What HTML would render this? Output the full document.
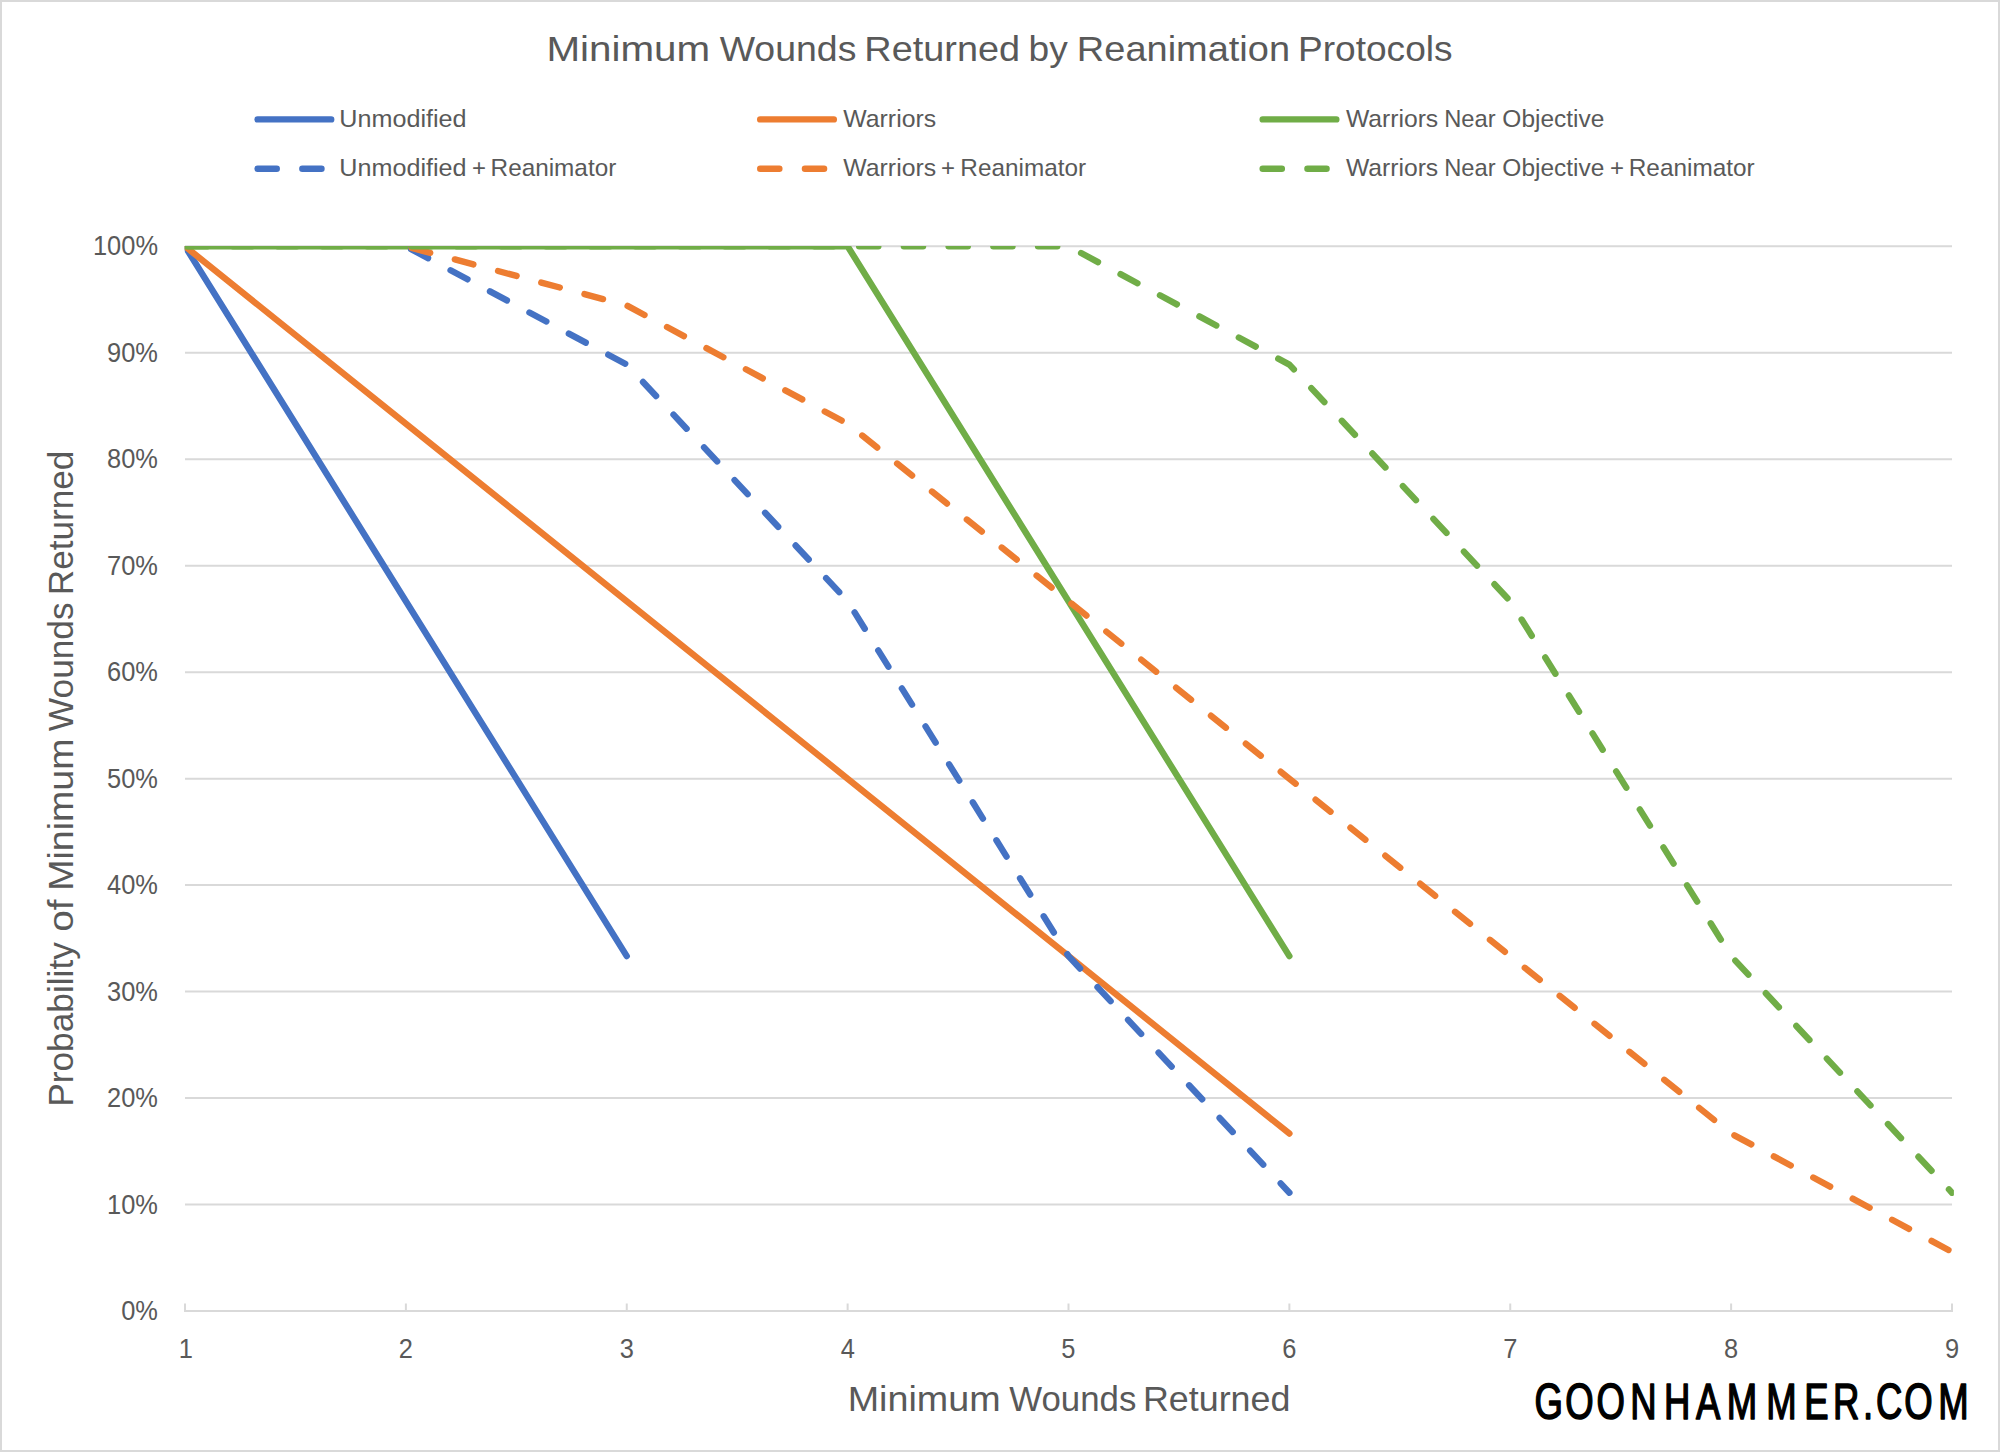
<!DOCTYPE html>
<html lang="en"><head><meta charset="utf-8"><title>Minimum Wounds Returned by Reanimation Protocols</title>
<style>html,body{margin:0;padding:0;background:#fff;width:2000px;height:1452px;overflow:hidden}svg{display:block}text{font-family:"Liberation Sans",sans-serif;fill:#595959}</style>
</head><body>
<svg width="2000" height="1452" viewBox="0 0 2000 1452">
<rect x="0" y="0" width="2000" height="1452" fill="#fff"/>
<rect x="1" y="1" width="1998" height="1450" fill="none" stroke="#D9D9D9" stroke-width="2"/>
<g stroke="#D9D9D9" stroke-width="2" fill="none">
<line x1="184.00" y1="1311.00" x2="1953.00" y2="1311.00"/>
<line x1="185.00" y1="1204.53" x2="1952.00" y2="1204.53"/>
<line x1="185.00" y1="1098.06" x2="1952.00" y2="1098.06"/>
<line x1="185.00" y1="991.59" x2="1952.00" y2="991.59"/>
<line x1="185.00" y1="885.12" x2="1952.00" y2="885.12"/>
<line x1="185.00" y1="778.65" x2="1952.00" y2="778.65"/>
<line x1="185.00" y1="672.18" x2="1952.00" y2="672.18"/>
<line x1="185.00" y1="565.71" x2="1952.00" y2="565.71"/>
<line x1="185.00" y1="459.24" x2="1952.00" y2="459.24"/>
<line x1="185.00" y1="352.77" x2="1952.00" y2="352.77"/>
<line x1="185.00" y1="246.30" x2="1952.00" y2="246.30"/>
<line x1="185.00" y1="1311.00" x2="185.00" y2="1303.50"/>
<line x1="405.88" y1="1311.00" x2="405.88" y2="1303.50"/>
<line x1="626.75" y1="1311.00" x2="626.75" y2="1303.50"/>
<line x1="847.62" y1="1311.00" x2="847.62" y2="1303.50"/>
<line x1="1068.50" y1="1311.00" x2="1068.50" y2="1303.50"/>
<line x1="1289.38" y1="1311.00" x2="1289.38" y2="1303.50"/>
<line x1="1510.25" y1="1311.00" x2="1510.25" y2="1303.50"/>
<line x1="1731.12" y1="1311.00" x2="1731.12" y2="1303.50"/>
<line x1="1952.00" y1="1311.00" x2="1952.00" y2="1303.50"/>
</g>
<defs><clipPath id="plot"><rect x="184.70" y="246.00" width="1769.20" height="1066.00"/></clipPath></defs>
<g clip-path="url(#plot)" fill="none" stroke-width="6.390" stroke-linecap="round" stroke-linejoin="round">
<polyline points="185.00,246.30 405.88,601.20 626.75,956.10" stroke="#4472C4"/>
<polyline points="185.00,246.30 405.88,423.75 626.75,601.20 847.62,778.65 1068.50,956.10 1289.38,1133.55" stroke="#ED7D31"/>
<polyline points="185.00,246.30 405.88,246.30 626.75,246.30 847.62,246.30 1068.50,601.20 1289.38,956.10" stroke="#70AD47"/>
<polyline points="405.88,246.30 626.75,364.60 847.62,601.20 1068.50,956.10 1289.38,1192.70" stroke="#4472C4" stroke-dasharray="19.170 25.560" stroke-dashoffset="38.760"/>
<polyline points="405.88,246.30 626.75,305.45 847.62,423.75 1068.50,601.20 1289.38,778.65 1510.25,956.10 1731.12,1133.55 1952.00,1251.85" stroke="#ED7D31" stroke-dasharray="19.170 25.560" stroke-dashoffset="38.760"/>
<polyline points="185.00,246.30 405.88,246.30 626.75,246.30 847.62,246.30 1068.50,246.30 1289.38,364.60 1510.25,601.20 1731.12,956.10 1952.00,1192.70" stroke="#70AD47" stroke-dasharray="19.170 25.560" stroke-dashoffset="-3.195"/>
</g>
<g fill="none" stroke-width="6.390" stroke-linecap="round">
<line x1="257.60" y1="119.4" x2="331.20" y2="119.4" stroke="#4472C4"/>
<line x1="257.60" y1="168.8" x2="331.20" y2="168.8" stroke="#4472C4" stroke-dasharray="19.170 25.560"/>
<line x1="760.20" y1="119.4" x2="833.80" y2="119.4" stroke="#ED7D31"/>
<line x1="760.20" y1="168.8" x2="833.80" y2="168.8" stroke="#ED7D31" stroke-dasharray="19.170 25.560"/>
<line x1="1262.69" y1="119.4" x2="1336.31" y2="119.4" stroke="#70AD47"/>
<line x1="1262.69" y1="168.8" x2="1336.31" y2="168.8" stroke="#70AD47" stroke-dasharray="19.170 25.560"/>
</g>
<text y="61.20" font-size="35.00"><tspan x="546.49" textLength="163.65" lengthAdjust="spacingAndGlyphs">Minimum</tspan> <tspan x="719.66" textLength="136.78" lengthAdjust="spacingAndGlyphs">Wounds</tspan> <tspan x="864.39" textLength="155.62" lengthAdjust="spacingAndGlyphs">Returned</tspan> <tspan x="1028.58" textLength="39.18" lengthAdjust="spacingAndGlyphs">by</tspan> <tspan x="1076.88" textLength="213.13" lengthAdjust="spacingAndGlyphs">Reanimation</tspan> <tspan x="1297.95" textLength="154.61" lengthAdjust="spacingAndGlyphs">Protocols</tspan></text>
<text y="126.80" font-size="24.20"><tspan x="339.32" textLength="127.25" lengthAdjust="spacingAndGlyphs">Unmodified</tspan></text>
<text y="126.80" font-size="24.20"><tspan x="843.32" textLength="92.79" lengthAdjust="spacingAndGlyphs">Warriors</tspan></text>
<text y="126.80" font-size="24.20"><tspan x="1345.92" textLength="92.28" lengthAdjust="spacingAndGlyphs">Warriors</tspan> <tspan x="1444.24" textLength="51.40" lengthAdjust="spacingAndGlyphs">Near</tspan> <tspan x="1502.39" textLength="101.96" lengthAdjust="spacingAndGlyphs">Objective</tspan></text>
<text y="176.20" font-size="24.20"><tspan x="339.32" textLength="127.25" lengthAdjust="spacingAndGlyphs">Unmodified</tspan> <tspan x="471.90" textLength="14.00" lengthAdjust="spacingAndGlyphs">+</tspan> <tspan x="490.59" textLength="125.70" lengthAdjust="spacingAndGlyphs">Reanimator</tspan></text>
<text y="176.20" font-size="24.20"><tspan x="843.32" textLength="92.79" lengthAdjust="spacingAndGlyphs">Warriors</tspan> <tspan x="941.00" textLength="14.00" lengthAdjust="spacingAndGlyphs">+</tspan> <tspan x="960.39" textLength="125.70" lengthAdjust="spacingAndGlyphs">Reanimator</tspan></text>
<text y="176.20" font-size="24.20"><tspan x="1345.92" textLength="92.28" lengthAdjust="spacingAndGlyphs">Warriors</tspan> <tspan x="1444.24" textLength="51.40" lengthAdjust="spacingAndGlyphs">Near</tspan> <tspan x="1502.39" textLength="101.96" lengthAdjust="spacingAndGlyphs">Objective</tspan> <tspan x="1610.00" textLength="14.00" lengthAdjust="spacingAndGlyphs">+</tspan> <tspan x="1628.79" textLength="125.91" lengthAdjust="spacingAndGlyphs">Reanimator</tspan></text>
<text y="1410.50" font-size="34.50"><tspan x="847.71" textLength="152.92" lengthAdjust="spacingAndGlyphs">Minimum</tspan> <tspan x="1009.28" textLength="127.10" lengthAdjust="spacingAndGlyphs">Wounds</tspan> <tspan x="1142.96" textLength="147.39" lengthAdjust="spacingAndGlyphs">Returned</tspan></text>
<text y="73.20" font-size="35.30" transform="rotate(-90)"><tspan x="-1106.79" textLength="164.68" lengthAdjust="spacingAndGlyphs">Probability</tspan> <tspan x="-931.88" textLength="32.30" lengthAdjust="spacingAndGlyphs">of</tspan> <tspan x="-890.87" textLength="152.27" lengthAdjust="spacingAndGlyphs">Minimum</tspan> <tspan x="-731.13" textLength="128.72" lengthAdjust="spacingAndGlyphs">Wounds</tspan> <tspan x="-595.28" textLength="144.69" lengthAdjust="spacingAndGlyphs">Returned</tspan></text>
<text transform="scale(0.7258,1)" x="2114.12 2156.75 2199.63 2246.03 2292.67 2336.85 2379.11 2433.53 2486.04 2525.55 2566.80 2584.82 2623.49 2670.64" y="1419.00" font-size="50.29" style="fill:#000" stroke="#000" stroke-width="1.40" stroke-linejoin="round" vector-effect="non-scaling-stroke">GOONHAMMER.COM</text>
<text x="121.22" y="1320.00" font-size="27.00" textLength="36.76" lengthAdjust="spacingAndGlyphs">0%</text>
<text x="107.09" y="1213.53" font-size="27.00" textLength="50.90" lengthAdjust="spacingAndGlyphs">10%</text>
<text x="107.09" y="1107.06" font-size="27.00" textLength="50.90" lengthAdjust="spacingAndGlyphs">20%</text>
<text x="107.09" y="1000.59" font-size="27.00" textLength="50.90" lengthAdjust="spacingAndGlyphs">30%</text>
<text x="107.09" y="894.12" font-size="27.00" textLength="50.90" lengthAdjust="spacingAndGlyphs">40%</text>
<text x="107.09" y="787.65" font-size="27.00" textLength="50.90" lengthAdjust="spacingAndGlyphs">50%</text>
<text x="107.09" y="681.18" font-size="27.00" textLength="50.90" lengthAdjust="spacingAndGlyphs">60%</text>
<text x="107.09" y="574.71" font-size="27.00" textLength="50.90" lengthAdjust="spacingAndGlyphs">70%</text>
<text x="107.09" y="468.24" font-size="27.00" textLength="50.90" lengthAdjust="spacingAndGlyphs">80%</text>
<text x="107.09" y="361.77" font-size="27.00" textLength="50.90" lengthAdjust="spacingAndGlyphs">90%</text>
<text x="92.97" y="255.30" font-size="27.00" textLength="65.04" lengthAdjust="spacingAndGlyphs">100%</text>
<text x="178.78" y="1357.60" font-size="27.00" textLength="14.16" lengthAdjust="spacingAndGlyphs">1</text>
<text x="398.81" y="1357.60" font-size="27.00" textLength="14.16" lengthAdjust="spacingAndGlyphs">2</text>
<text x="619.68" y="1357.60" font-size="27.00" textLength="14.16" lengthAdjust="spacingAndGlyphs">3</text>
<text x="840.63" y="1357.60" font-size="27.00" textLength="14.16" lengthAdjust="spacingAndGlyphs">4</text>
<text x="1061.35" y="1357.60" font-size="27.00" textLength="14.16" lengthAdjust="spacingAndGlyphs">5</text>
<text x="1282.23" y="1357.60" font-size="27.00" textLength="14.16" lengthAdjust="spacingAndGlyphs">6</text>
<text x="1503.17" y="1357.60" font-size="27.00" textLength="14.16" lengthAdjust="spacingAndGlyphs">7</text>
<text x="1724.06" y="1357.60" font-size="27.00" textLength="14.16" lengthAdjust="spacingAndGlyphs">8</text>
<text x="1944.92" y="1357.60" font-size="27.00" textLength="14.16" lengthAdjust="spacingAndGlyphs">9</text>
</svg>
</body></html>
